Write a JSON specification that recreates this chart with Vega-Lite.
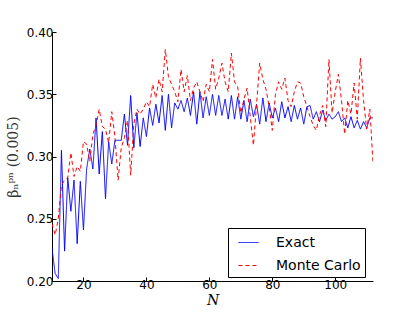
{
  "$schema": "https://vega.github.io/schema/vega-lite/v6.json",
  "width": 321,
  "height": 249,
  "autosize": {"type": "none"},
  "padding": {"left": 52, "top": 32, "right": 42, "bottom": 31},
  "background": "white",
  "config": {
    "view": {"stroke": null},
    "font": "DejaVu Sans",
    "axis": {
      "grid": false,
      "domainColor": "black",
      "domainWidth": 1,
      "tickColor": "black",
      "tickSize": -4,
      "labelFont": "DejaVu Sans",
      "labelFontSize": 12,
      "labelColor": "black",
      "labelPadding": 3,
      "titleFont": "DejaVu Serif",
      "titleFontStyle": "italic",
      "titleFontWeight": "normal",
      "titleFontSize": 14,
      "titleColor": "black"
    },
    "legend": {
      "orient": "none",
      "legendX": 176,
      "legendY": 196,
      "padding": 4,
      "strokeColor": "black",
      "fillColor": "white",
      "cornerRadius": 0,
      "labelFont": "DejaVu Sans",
      "labelFontSize": 14,
      "labelOffset": 17,
      "rowPadding": 5,
      "symbolOffset": 6,
      "symbolType": "stroke",
      "symbolSize": 400,
      "symbolStrokeWidth": 1
    }
  },
  "data": {
    "values": [
      {"N":10,"Exact":0.226,"Monte Carlo":0.246},
      {"N":11,"Exact":0.206,"Monte Carlo":0.237},
      {"N":12,"Exact":0.202,"Monte Carlo":0.250},
      {"N":13,"Exact":0.305,"Monte Carlo":0.277},
      {"N":14,"Exact":0.224,"Monte Carlo":0.281},
      {"N":15,"Exact":0.283,"Monte Carlo":0.283},
      {"N":16,"Exact":0.256,"Monte Carlo":0.303},
      {"N":17,"Exact":0.281,"Monte Carlo":0.284},
      {"N":18,"Exact":0.230,"Monte Carlo":0.292},
      {"N":19,"Exact":0.280,"Monte Carlo":0.288},
      {"N":20,"Exact":0.241,"Monte Carlo":0.312},
      {"N":21,"Exact":0.290,"Monte Carlo":0.310},
      {"N":22,"Exact":0.306,"Monte Carlo":0.296},
      {"N":23,"Exact":0.290,"Monte Carlo":0.318},
      {"N":24,"Exact":0.331,"Monte Carlo":0.325},
      {"N":25,"Exact":0.286,"Monte Carlo":0.338},
      {"N":26,"Exact":0.320,"Monte Carlo":0.324},
      {"N":27,"Exact":0.266,"Monte Carlo":0.322},
      {"N":28,"Exact":0.312,"Monte Carlo":0.311},
      {"N":29,"Exact":0.294,"Monte Carlo":0.336},
      {"N":30,"Exact":0.313,"Monte Carlo":0.316},
      {"N":31,"Exact":0.313,"Monte Carlo":0.281},
      {"N":32,"Exact":0.313,"Monte Carlo":0.307},
      {"N":33,"Exact":0.334,"Monte Carlo":0.315},
      {"N":34,"Exact":0.309,"Monte Carlo":0.329},
      {"N":35,"Exact":0.349,"Monte Carlo":0.285},
      {"N":36,"Exact":0.307,"Monte Carlo":0.326},
      {"N":37,"Exact":0.335,"Monte Carlo":0.338},
      {"N":38,"Exact":0.308,"Monte Carlo":0.334},
      {"N":39,"Exact":0.331,"Monte Carlo":0.338},
      {"N":40,"Exact":0.316,"Monte Carlo":0.344},
      {"N":41,"Exact":0.339,"Monte Carlo":0.340},
      {"N":42,"Exact":0.325,"Monte Carlo":0.358},
      {"N":43,"Exact":0.342,"Monte Carlo":0.347},
      {"N":44,"Exact":0.327,"Monte Carlo":0.362},
      {"N":45,"Exact":0.349,"Monte Carlo":0.352},
      {"N":46,"Exact":0.321,"Monte Carlo":0.386},
      {"N":47,"Exact":0.350,"Monte Carlo":0.364},
      {"N":48,"Exact":0.323,"Monte Carlo":0.358},
      {"N":49,"Exact":0.343,"Monte Carlo":0.352},
      {"N":50,"Exact":0.338,"Monte Carlo":0.344},
      {"N":51,"Exact":0.345,"Monte Carlo":0.370},
      {"N":52,"Exact":0.336,"Monte Carlo":0.352},
      {"N":53,"Exact":0.347,"Monte Carlo":0.365},
      {"N":54,"Exact":0.333,"Monte Carlo":0.345},
      {"N":55,"Exact":0.352,"Monte Carlo":0.355},
      {"N":56,"Exact":0.326,"Monte Carlo":0.360},
      {"N":57,"Exact":0.352,"Monte Carlo":0.352},
      {"N":58,"Exact":0.331,"Monte Carlo":0.344},
      {"N":59,"Exact":0.348,"Monte Carlo":0.358},
      {"N":60,"Exact":0.333,"Monte Carlo":0.352},
      {"N":61,"Exact":0.350,"Monte Carlo":0.378},
      {"N":62,"Exact":0.333,"Monte Carlo":0.354},
      {"N":63,"Exact":0.349,"Monte Carlo":0.363},
      {"N":64,"Exact":0.333,"Monte Carlo":0.375},
      {"N":65,"Exact":0.346,"Monte Carlo":0.360},
      {"N":66,"Exact":0.330,"Monte Carlo":0.352},
      {"N":67,"Exact":0.349,"Monte Carlo":0.383},
      {"N":68,"Exact":0.330,"Monte Carlo":0.360},
      {"N":69,"Exact":0.348,"Monte Carlo":0.356},
      {"N":70,"Exact":0.330,"Monte Carlo":0.335},
      {"N":71,"Exact":0.345,"Monte Carlo":0.346},
      {"N":72,"Exact":0.328,"Monte Carlo":0.355},
      {"N":73,"Exact":0.346,"Monte Carlo":0.332},
      {"N":74,"Exact":0.332,"Monte Carlo":0.309},
      {"N":75,"Exact":0.342,"Monte Carlo":0.342},
      {"N":76,"Exact":0.326,"Monte Carlo":0.375},
      {"N":77,"Exact":0.347,"Monte Carlo":0.362},
      {"N":78,"Exact":0.328,"Monte Carlo":0.354},
      {"N":79,"Exact":0.343,"Monte Carlo":0.340},
      {"N":80,"Exact":0.331,"Monte Carlo":0.321},
      {"N":81,"Exact":0.339,"Monte Carlo":0.350},
      {"N":82,"Exact":0.328,"Monte Carlo":0.360},
      {"N":83,"Exact":0.344,"Monte Carlo":0.354},
      {"N":84,"Exact":0.331,"Monte Carlo":0.363},
      {"N":85,"Exact":0.340,"Monte Carlo":0.345},
      {"N":86,"Exact":0.328,"Monte Carlo":0.340},
      {"N":87,"Exact":0.341,"Monte Carlo":0.352},
      {"N":88,"Exact":0.330,"Monte Carlo":0.360},
      {"N":89,"Exact":0.339,"Monte Carlo":0.359},
      {"N":90,"Exact":0.326,"Monte Carlo":0.348},
      {"N":91,"Exact":0.340,"Monte Carlo":0.340},
      {"N":92,"Exact":0.341,"Monte Carlo":0.332},
      {"N":93,"Exact":0.330,"Monte Carlo":0.325},
      {"N":94,"Exact":0.336,"Monte Carlo":0.321},
      {"N":95,"Exact":0.328,"Monte Carlo":0.333},
      {"N":96,"Exact":0.337,"Monte Carlo":0.341},
      {"N":97,"Exact":0.329,"Monte Carlo":0.324},
      {"N":98,"Exact":0.334,"Monte Carlo":0.378},
      {"N":99,"Exact":0.330,"Monte Carlo":0.335},
      {"N":100,"Exact":0.332,"Monte Carlo":0.352},
      {"N":101,"Exact":0.336,"Monte Carlo":0.366},
      {"N":102,"Exact":0.328,"Monte Carlo":0.345},
      {"N":103,"Exact":0.331,"Monte Carlo":0.318},
      {"N":104,"Exact":0.323,"Monte Carlo":0.345},
      {"N":105,"Exact":0.332,"Monte Carlo":0.334},
      {"N":106,"Exact":0.323,"Monte Carlo":0.359},
      {"N":107,"Exact":0.329,"Monte Carlo":0.330},
      {"N":108,"Exact":0.322,"Monte Carlo":0.379},
      {"N":109,"Exact":0.328,"Monte Carlo":0.345},
      {"N":110,"Exact":0.323,"Monte Carlo":0.322},
      {"N":111,"Exact":0.331,"Monte Carlo":0.338},
      {"N":112,"Exact":0.331,"Monte Carlo":0.295}
    ]
  },
  "transform": [{"fold": ["Exact", "Monte Carlo"], "as": ["series", "value"]}],
  "mark": {"type": "line", "strokeWidth": 1, "clip": true},
  "encoding": {
    "x": {
      "field": "N", "type": "quantitative",
      "scale": {"domain": [10, 112], "nice": false, "zero": false},
      "axis": {"values": [20, 40, 60, 80, 100], "title": "N", "labelPadding": 2, "titlePadding": 3}
    },
    "y": {
      "field": "value", "type": "quantitative",
      "scale": {"domain": [0.2, 0.4], "nice": false, "zero": false},
      "axis": {"values": [0.2, 0.25, 0.3, 0.35, 0.4], "format": ".2f", "title": "βₙᵖⁿ (0.005)", "titleFontStyle": "normal", "titleColor": "#333333", "titlePadding": 6}
    },
    "color": {
      "field": "series", "type": "nominal",
      "scale": {"domain": ["Exact", "Monte Carlo"], "range": ["#0000ff", "#ff0000"]},
      "legend": {"title": null}
    },
    "strokeDash": {
      "field": "series", "type": "nominal",
      "scale": {"domain": ["Exact", "Monte Carlo"], "range": [[1, 0], [4, 3]]},
      "legend": {"title": null}
    }
  }
}
